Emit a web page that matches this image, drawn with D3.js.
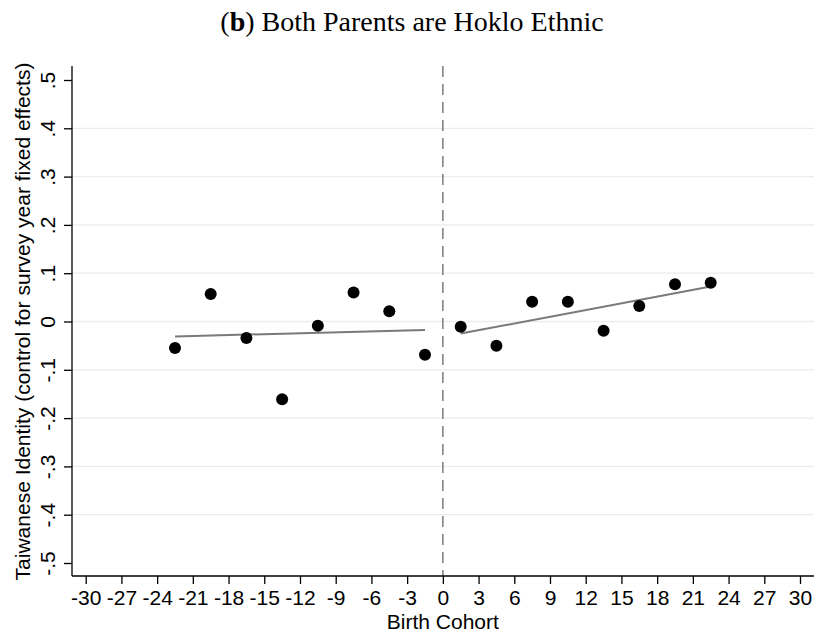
<!DOCTYPE html>
<html>
<head>
<meta charset="utf-8">
<script src="https://cdn.jsdelivr.net/npm/d3@7"></script>
<style>
  html, body { margin: 0; padding: 0; background: #fff; }
  svg { display: block; }
</style>
</head>
<body>
<svg id="chart" width="814" height="632"></svg>
<script>
// Binned means of Taiwanese identity by birth cohort (relative to cutoff)
const cohortLeft  = [-22.5, -19.5, -16.5, -13.5, -10.5, -7.5, -4.5, -1.5];
const identityLeft  = [-0.055, 0.057, -0.034, -0.161, -0.009, 0.060, 0.021, -0.069];
const cohortRight = [1.5, 4.5, 7.5, 10.5, 13.5, 16.5, 19.5, 22.5];
const identityRight = [-0.011, -0.050, 0.041, 0.041, -0.019, 0.032, 0.077, 0.080];

// Linear fits on each side of the cutoff (end points)
const fitLeftX = [-22.5, -1.5];
const fitLeftY = [-0.031, -0.0175];
const fitRightX = [1.5, 22.5];
const fitRightY = [-0.025, 0.0725];

const xTicks = [-30, -27, -24, -21, -18, -15, -12, -9, -6, -3, 0, 3, 6, 9, 12, 15, 18, 21, 24, 27, 30];
const yTicks = [-0.5, -0.4, -0.3, -0.2, -0.1, 0, 0.1, 0.2, 0.3, 0.4, 0.5];
const yGrid = [-0.4, -0.3, -0.2, -0.1, 0, 0.1, 0.2, 0.3, 0.4];

const titleText = "Both Parents are Hoklo Ethnic";
const yTitle = "Taiwanese Identity (control for survey year fixed effects)";
const xTitle = "Birth Cohort";

const svg = d3.select("#chart");
const plot = { left: 72, right: 814, top: 66, bottom: 576 };

const x = d3.scaleLinear().domain([-30, 30]).range([85.7, 800]);
const y = d3.scaleLinear().domain([-0.5, 0.5]).range([563, 80]);

const sansFont = "'Liberation Sans', Arial, sans-serif";
const labelSize = "21px";

// Stata-style labels: ASCII hyphen, no leading zero
const fmtY = v => {
  if (Math.abs(v) < 1e-9) return "0";
  const s = Math.abs(v).toFixed(1).replace(/^0/, "");
  return (v < 0 ? "-" : "") + s;
};
const fmtX = v => (v < 0 ? "-" : "") + Math.abs(v);

// Grid
svg.append("g").selectAll("line").data(yGrid).join("line")
  .attr("x1", plot.left).attr("x2", plot.right)
  .attr("y1", d => y(d)).attr("y2", d => y(d))
  .attr("stroke", "#e6eef1").attr("stroke-width", 1.3);

// Cutoff line
svg.append("line")
  .attr("x1", x(0)).attr("x2", x(0))
  .attr("y1", plot.top).attr("y2", plot.bottom)
  .attr("stroke", "#848484").attr("stroke-width", 1.6)
  .attr("stroke-dasharray", "11,7");

// Axes
const yAxis = d3.axisLeft(y).tickValues(yTicks).tickFormat(fmtY).tickSize(8).tickPadding(8);
const gy = svg.append("g").attr("transform", `translate(${plot.left},0)`).call(yAxis);
gy.select(".domain").attr("d", `M0,${plot.top}V${plot.bottom}`);
gy.selectAll(".tick text")
  .attr("transform", "rotate(-90)")
  .attr("x", 0).attr("y", -17)
  .attr("dy", null)
  .attr("text-anchor", "middle");

const xAxis = d3.axisBottom(x).tickValues(xTicks).tickFormat(fmtX).tickSize(8).tickPadding(6);
const gx = svg.append("g").attr("transform", `translate(0,${plot.bottom})`).call(xAxis);
gx.select(".domain").attr("d", `M${plot.left},0H${plot.right}`);

[gx, gy].forEach(g => {
  g.select(".domain").attr("stroke", "#000").attr("stroke-width", 1.3);
  g.selectAll(".tick line").attr("stroke", "#000").attr("stroke-width", 1.3);
  g.selectAll(".tick text")
    .attr("fill", "#000")
    .style("font-family", sansFont)
    .style("font-size", labelSize);
});

// Fit lines
const line = d3.line().x(d => x(d[0])).y(d => y(d[1]));
svg.append("path").datum(d3.zip(fitLeftX, fitLeftY)).attr("d", line)
  .attr("fill", "none").attr("stroke", "#7a7a7a").attr("stroke-width", 2);
svg.append("path").datum(d3.zip(fitRightX, fitRightY)).attr("d", line)
  .attr("fill", "none").attr("stroke", "#7a7a7a").attr("stroke-width", 2);

// Points
const pts = d3.zip(cohortLeft, identityLeft).concat(d3.zip(cohortRight, identityRight));
svg.append("g").selectAll("circle").data(pts).join("circle")
  .attr("cx", d => x(d[0])).attr("cy", d => y(d[1]))
  .attr("r", 6).attr("fill", "#000");

// Titles
const title = svg.append("text")
  .attr("x", 412).attr("y", 31)
  .attr("text-anchor", "middle")
  .style("font-family", "'Liberation Serif', 'Times New Roman', serif")
  .style("font-size", "28px")
  .attr("fill", "#000");
title.append("tspan").text("(");
title.append("tspan").attr("font-weight", "bold").text("b");
title.append("tspan").text(") " + titleText);

svg.append("text")
  .attr("x", x(0)).attr("y", 629)
  .attr("text-anchor", "middle")
  .style("font-family", sansFont)
  .style("font-size", labelSize)
  .attr("fill", "#000")
  .text(xTitle);

svg.append("text")
  .attr("transform", `translate(30, ${y(0)}) rotate(-90)`)
  .attr("text-anchor", "middle")
  .style("font-family", sansFont)
  .style("font-size", labelSize)
  .attr("fill", "#000")
  .text(yTitle);
</script>
</body>
</html>
